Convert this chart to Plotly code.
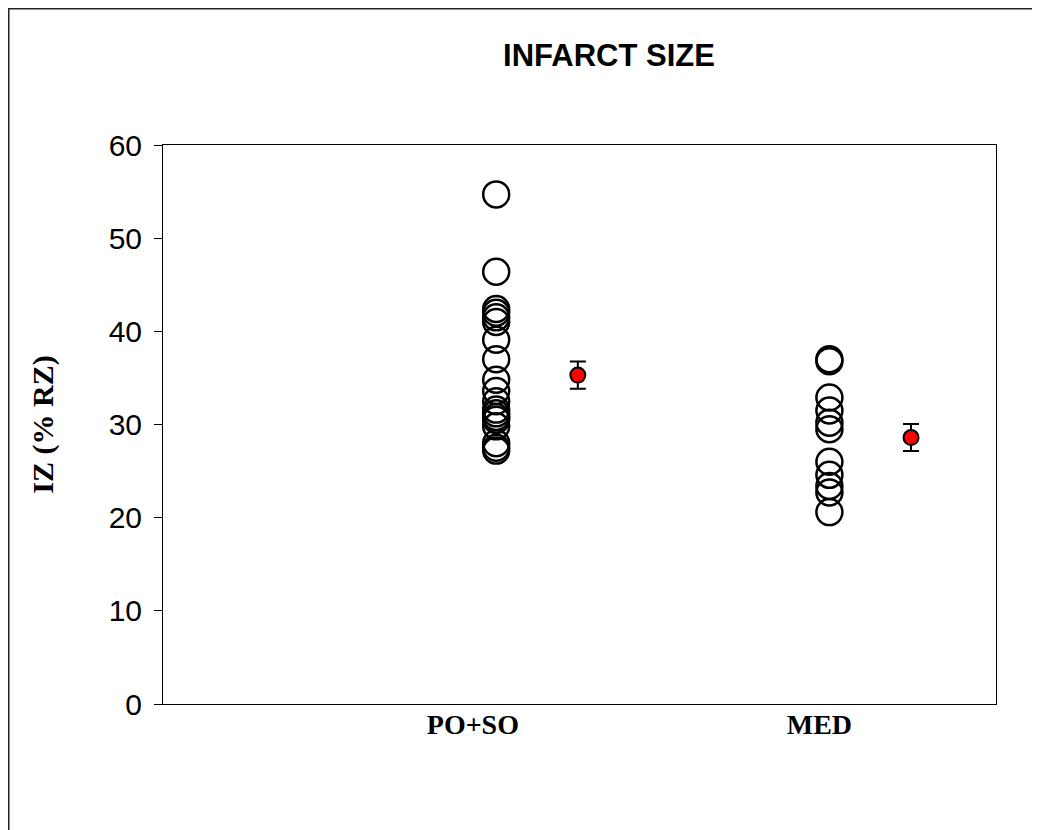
import plotly.graph_objects as go

# Data
groups = ["PO+SO", "MED"]
po_so_values = [54.7, 46.4, 42.4, 42.0, 41.5, 41.0, 39.1, 37.0, 34.8, 33.6,
                32.5, 31.6, 31.2, 30.8, 30.5, 29.8, 28.0, 27.5, 27.2]
med_values = [37.0, 36.8, 32.9, 31.5, 30.2, 29.5, 26.0, 24.6, 23.4, 22.7, 20.6]
means = [35.3, 28.6]
sems = [1.45, 1.45]

# positions on the numeric x scale
group_x = [1.0, 2.0]
mean_x = [1.245, 2.245]
tick_x = [0.93, 1.97]

fig = go.Figure()

fig.add_trace(go.Scatter(
    x=[group_x[0]] * len(po_so_values), y=po_so_values, mode="markers",
    marker=dict(symbol="circle-open", size=26, color="black", line=dict(width=2.5, color="black")),
    showlegend=False, hoverinfo="y"))
fig.add_trace(go.Scatter(
    x=[group_x[1]] * len(med_values), y=med_values, mode="markers",
    marker=dict(symbol="circle-open", size=26, color="black", line=dict(width=2.5, color="black")),
    showlegend=False, hoverinfo="y"))
fig.add_trace(go.Scatter(
    x=mean_x, y=means, mode="markers",
    marker=dict(symbol="circle", size=15, color="#ff0000", line=dict(width=2, color="black")),
    error_y=dict(type="data", array=sems, visible=True, color="black", thickness=2, width=8),
    showlegend=False))

L, T, PW, PH = 155, 137, 833, 559
W, H = 1040, 830

fig.update_layout(
    width=W, height=H,
    margin=dict(l=L, r=W - L - PW, t=T, b=H - T - PH),
    paper_bgcolor="white", plot_bgcolor="white",
    title=dict(text="<b>INFARCT SIZE</b>", x=601 / W, xanchor="center",
               y=1 - 47 / H, yanchor="middle",
               font=dict(family="Liberation Sans, Arial", size=31, color="black")),
    xaxis=dict(range=[0, 2.5], tickvals=tick_x, ticktext=["<b>" + g + "</b>" for g in groups],
               tickfont=dict(family="Liberation Serif, Times New Roman", size=28, color="black"),
               showline=True, linecolor="black", linewidth=1, mirror=True,
               ticks="", showgrid=False, zeroline=False, ticklabelstandoff=-5),
    yaxis=dict(range=[0, 60], dtick=10,
               tickfont=dict(family="Liberation Sans, Arial", size=30, color="black"),
               title=dict(text="<b>IZ (% RZ)</b>", standoff=46,
                          font=dict(family="Liberation Serif, Times New Roman", size=30, color="black")),
               showline=True, linecolor="black", linewidth=1, mirror=True,
               ticks="outside", ticklen=8, tickcolor="black", showgrid=False, zeroline=False,
               ticklabelstandoff=6),
    shapes=[dict(type="rect", xref="paper", yref="paper",
                 x0=(0.5 - L) / PW, x1=1.3, y0=-0.4, y1=(T + PH - 0.5) / PH,
                 line=dict(color="#222222", width=2), layer="below")],
)

fig.write_html("out.html")
